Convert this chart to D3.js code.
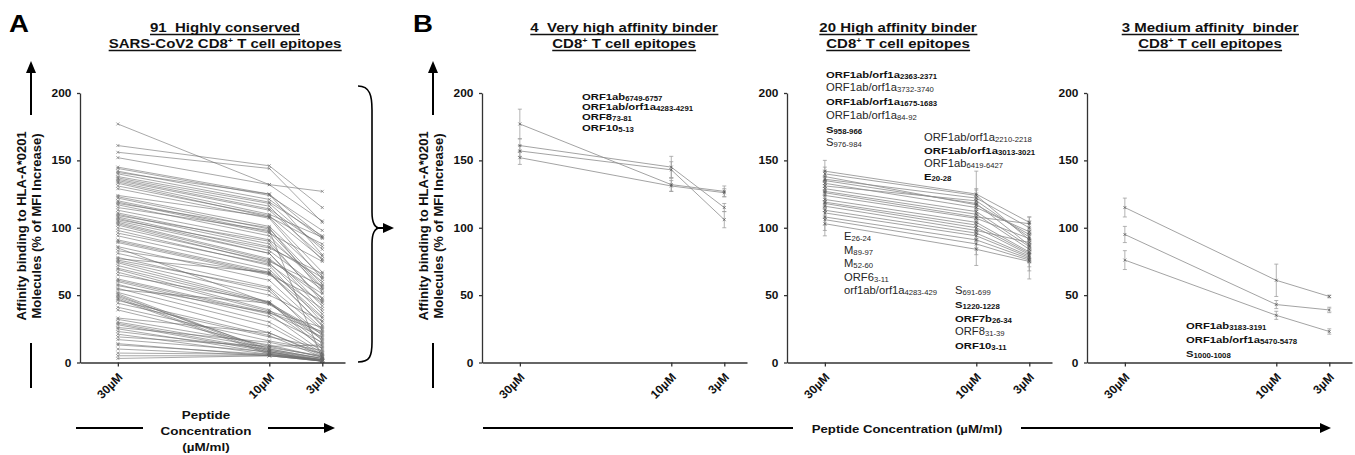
<!DOCTYPE html>
<html>
<head>
<meta charset="utf-8">
<script src="https://cdn.jsdelivr.net/npm/d3@7"></script>
<style>
  body { margin: 0; background: #fff; }
  text { font-family: "Liberation Sans", Arial, sans-serif; white-space: pre; }
</style>
</head>
<body>
<svg id="fig" width="1355" height="455"></svg>
<script>
// ---- data ----
const doses = [30, 10, 3];
const yTicks = [0, 50, 100, 150, 200];

// A: 91 highly conserved epitopes (value at 30, 10, 3 µM)
const a30 = [177,161,156,152,145,144,142,141,140,138,137,136,135,134,133,131,129,124,123,122,120,119,118,117,115,113,111,110,109,108,107,106,105,104,103,102,100,98,96,94,91,90,89,86,85,83,81,78,77,76,75,74,72,70,69,67,65,62,61,60,58,57,55,54,52,51,50,49,48,47,46,44,41,39,33,32,30,29,28,26,25,23,21,19,17,14,13,10,7,5,3];
const a10 = [132,146,144,132,125,124,121,125,119,118,116,114,113,110,108,109,107,108,101,99,97,96,100,94,98,91,88,86,90,83,81,85,81,77,76,74,75,72,73,69,67,66,65,61,44,66,56,53,67,55,50,45,44,43,39,38,45,37,36,34,30,37,27,44,22,9,8,10,7,6,20,19,16,12,22,13,11,9,8,15,7,10,6,12,8,5,6,5,6,5,5];
const a3  = [127,115,104,105,93,98,92,80,94,84,76,86,79,93,67,77,62,88,64,58,56,75,52,55,3,60,47,63,45,54,42,66,38,48,51,36,57,30,44,34,40,28,46,25,22,33,24,20,27,16,31,18,14,21,12,26,10,19,8,15,7,23,6,17,5,2,1,3,2,1,4,11,9,13,6,4,5,3,2,7,1,3,2,4,1,2,1,1,2,1,1];

// B1: 4 very high affinity binders (mean, sd)
const vh30 = [177,161,157,152], vh30sd = [11,5,4,5];
const vh10 = [132,145,143,131], vh10sd = [5,8,6,4];
const vh3  = [127,115,106,126], vh3sd  = [4,3,6,3];

// B2: 20 high affinity binders
const hi30 = [142,140,138,136,135,133,131,129,127,126,124,121,119,118,116,113,111,108,106,103];
const hi30sd = [8,5,4,6,3,5,4,5,3,6,4,5,3,6,4,5,4,6,8,9];
const hi10 = [125,124,117,122,118,115,120,112,110,108,107,104,102,100,98,96,94,91,88,84];
const hi10sd = [17,5,4,6,4,5,3,6,4,5,3,6,4,5,6,5,4,6,8,12];
const hi3  = [104,91,95,100,87,97,93,86,84,103,92,82,81,80,89,79,78,77,76,75];
const hi3sd  = [4,5,4,5,3,6,4,5,3,5,4,6,4,5,6,5,4,6,8,13];

// B3: 3 medium affinity binders
const md30 = [115,95,76], md30sd = [7,6,7];
const md10 = [61,43,35], md10sd = [12,3,3];
const md3  = [49,39,23], md3sd  = [1,2,2];

// epitope annotations: [name, subscript, bold]
const notesB1 = [["ORF1ab","6749-6757",1],["ORF1ab/orf1a","4283-4291",1],["ORF8","73-81",1],["ORF10","5-13",1]];
const notesB2a = [["ORF1ab/orf1a","2363-2371",1],["ORF1ab/orf1a","3732-3740",0],["ORF1ab/orf1a","1675-1683",1],["ORF1ab/orf1a","84-92",0],["S","958-966",1],["S","976-984",0]];
const notesB2b = [["ORF1ab/orf1a","2210-2218",0],["ORF1ab/orf1a","3013-3021",1],["ORF1ab","6419-6427",0],["E","20-28",1]];
const notesB2c = [["E","26-24",0],["M","89-97",0],["M","52-60",0],["ORF6","3-11",0],["orf1ab/orf1a","4283-429",0]];
const notesB2d = [["S","691-699",0],["S","1220-1228",1],["ORF7b","26-34",1],["ORF8","31-39",0],["ORF10","3-11",1]];
const notesB3 = [["ORF1ab","3183-3191",1],["ORF1ab/orf1a","5470-5478",1],["S","1000-1008",1]];

// ---- drawing ----
const svg = d3.select("#fig");
const y = d3.scaleLinear().domain([0, 200]).range([362.5, 93]);
const SX = 1.2;   // the figure's lettering is a little wide

// horizontal text helper, stretched a little like the original figure
function wideText(x, yy, size, bold, sx) {
    return svg.append("text")
        .attr("transform", `translate(${x},${yy}) scale(${sx || SX},1)`)
        .style("font-size", size + "px")
        .style("font-weight", bold ? "bold" : "normal")
        .attr("fill", "#111");
}

function panel(x0, s30, s10, s3, sd30, sd10, sd3, small) {
    const x = d3.scaleLinear().domain([35, 0]).range([x0, x0 + 265]);
    const g = svg.append("g");

    const rows = s30.map((v, i) => [[30, v, sd30 ? sd30[i] : 0], [10, s10[i], sd10 ? sd10[i] : 0], [3, s3[i], sd3 ? sd3[i] : 0]]);

    // error bars
    if (sd30) {
        const eb = g.append("g").attr("stroke", "#a0a0a0").attr("stroke-width", 0.8);
        rows.flat().forEach(p => {
            eb.append("line").attr("x1", x(p[0])).attr("x2", x(p[0]))
                .attr("y1", y(p[1] - p[2])).attr("y2", y(p[1] + p[2]));
            [p[1] - p[2], p[1] + p[2]].forEach(v => {
                eb.append("line").attr("x1", x(p[0]) - 2).attr("x2", x(p[0]) + 2)
                    .attr("y1", y(v)).attr("y2", y(v));
            });
        });
    }

    const line = d3.line().x(d => x(d[0])).y(d => y(d[1]));
    g.selectAll(".ln").data(rows).enter().append("path")
        .attr("d", line)
        .attr("fill", "none")
        .attr("stroke", small ? "#6e6e6e" : "#8c8c8c")
        .attr("stroke-width", small ? 0.6 : 0.8);

    // markers (small crosses)
    const m = 1.5;
    g.selectAll(".mk").data(rows.flat()).enter().append("path")
        .attr("d", d => `M${x(d[0]) - m},${y(d[1]) - m}L${x(d[0]) + m},${y(d[1]) + m}M${x(d[0]) - m},${y(d[1]) + m}L${x(d[0]) + m},${y(d[1]) - m}`)
        .attr("stroke", small ? "#666" : "#444")
        .attr("stroke-width", 0.6);

    // axes
    const ay = g.append("g")
        .attr("transform", `translate(${x0},0)`)
        .call(d3.axisLeft(y).tickValues(yTicks).tickSize(3).tickSizeOuter(0));
    const ax = g.append("g")
        .attr("transform", `translate(0,${y(0)})`)
        .call(d3.axisBottom(x).tickValues(doses).tickSize(4).tickSizeOuter(0).tickFormat(d => d + "µM"));
    [ay, ax].forEach(a => {
        a.select(".domain").attr("stroke", "#333").attr("stroke-width", 1.3);
        a.selectAll(".tick line").attr("stroke", "#333").attr("stroke-width", 1.3);
        a.selectAll("text").attr("fill", "#111").style("font-weight", "bold")
            .style("font-family", "'Liberation Sans', Arial, sans-serif");
    });
    ay.selectAll("text").style("font-size", "11px").attr("x", -8)
        .attr("transform", "scale(1.08,1)");
    ax.selectAll("text")
        .style("font-size", "12px")
        .attr("text-anchor", "end")
        .attr("x", 0).attr("y", 0).attr("dy", 0)
        .attr("transform", "translate(5,15.5) rotate(-45)");
    return x;
}

function yLabel(cx) {
    const t = svg.append("text")
        .attr("transform", `translate(${cx},226) rotate(-90)`)
        .attr("text-anchor", "middle")
        .style("font-weight", "bold").style("font-size", "13px").attr("fill", "#111");
    t.append("tspan").attr("x", 0).attr("y", 0).text("Affinity binding to HLA-A*0201");
    t.append("tspan").attr("x", 0).attr("y", 14.5).text("Molecules (% of MFI Increase)");
}

function arrowUp(cx) {
    svg.append("line").attr("x1", cx).attr("x2", cx).attr("y1", 115).attr("y2", 70)
        .attr("stroke", "#000").attr("stroke-width", 2);
    svg.append("path").attr("d", `M${cx},61L${cx - 5},73L${cx + 5},73Z`).attr("fill", "#000");
    svg.append("line").attr("x1", cx).attr("x2", cx).attr("y1", 343).attr("y2", 388)
        .attr("stroke", "#000").attr("stroke-width", 2);
}

function arrowRight(x1, x2, yy) {
    svg.append("line").attr("x1", x1).attr("x2", x2 - 8).attr("y1", yy).attr("y2", yy)
        .attr("stroke", "#000").attr("stroke-width", 2);
    svg.append("path").attr("d", `M${x2},${yy}L${x2 - 11},${yy - 5}L${x2 - 11},${yy + 5}Z`).attr("fill", "#000");
}

function title(cx, l1, l2) {
    const t = wideText(cx, 32, 12.5, true).attr("text-anchor", "middle").text(l1);
    const t2 = wideText(cx, 48, 12.5, true).attr("text-anchor", "middle");
    t2.append("tspan").text(l2[0]);
    t2.append("tspan").attr("dy", -5).style("font-size", "7.5px").text("+");
    t2.append("tspan").attr("dy", 5).text(l2[1]);
    [[t, 34.5], [t2, 50.5]].forEach(([tt, yy]) => {
        const b = tt.node().getBoundingClientRect();
        svg.append("line").attr("x1", b.left).attr("x2", b.right).attr("y1", yy).attr("y2", yy)
            .attr("stroke", "#111").attr("stroke-width", 1.3);
    });
}

function notes(list, x0, y0, step) {
    list.forEach((n, i) => {
        const bold = n[2] === 1;
        const t = wideText(x0, y0 + i * step, bold ? 9.4 : 10.2, bold, bold ? 1.2 : 1.1)
            .attr("fill", bold ? "#111" : "#262626");
        t.append("tspan").text(n[0]);
        t.append("tspan").attr("dy", 1).style("font-size", bold ? "6.5px" : "7px").text(n[1]);
    });
}

// panel A
panel(80, a30, a10, a3, null, null, null, true);
// panels B
panel(482, vh30, vh10, vh3, vh30sd, vh10sd, vh3sd, false);
panel(787, hi30, hi10, hi3, hi30sd, hi10sd, hi3sd, false);
panel(1087, md30, md10, md3, md30sd, md10sd, md3sd, false);

yLabel(26);
yLabel(428);
arrowUp(31);
arrowUp(433);

// letters
wideText(9, 32, 23, true).attr("fill", "#000").text("A");
wideText(413, 32, 23, true).attr("fill", "#000").text("B");

title(225, "91  Highly conserved", ["SARS-CoV2 CD8", " T cell epitopes"]);
title(624, "4  Very high affinity binder", ["CD8", " T cell epitopes"]);
title(898, "20 High affinity binder", ["CD8", " T cell epitopes"]);
title(1210, "3 Medium affinity  binder", ["CD8", " T cell epitopes"]);

// x-axis labels
arrowRight(76, 335, 428);
svg.append("rect").attr("x", 143).attr("y", 420).attr("width", 125).attr("height", 16).attr("fill", "#fff");
wideText(206, 419, 11.2, true).attr("text-anchor", "middle").text("Peptide");
wideText(206, 435, 11.2, true).attr("text-anchor", "middle").text("Concentration");
wideText(206, 451, 11.2, true).attr("text-anchor", "middle").text("(µM/ml)");

arrowRight(483, 1331, 428);
svg.append("rect").attr("x", 793).attr("y", 420).attr("width", 228).attr("height", 16).attr("fill", "#fff");
wideText(907, 433, 11, true).attr("text-anchor", "middle").text("Peptide Concentration (µM/ml)");

// brace from A to B
svg.append("path")
    .attr("d", "M358,86C370,86 372,96 372,110L372,212C372,222 375,228 380,228C375,228 372,234 372,244L372,342C372,356 370,362 358,362")
    .attr("fill", "none").attr("stroke", "#000").attr("stroke-width", 1.6);
arrowRight(376, 394, 228);

// annotations
notes(notesB1, 582, 100, 10.2);
notes(notesB2a, 826, 77.7, 13.7);
notes(notesB2b, 924, 141, 13);
notes(notesB2c, 844, 240, 13.5);
notes(notesB2d, 955, 294, 13.8);
notes(notesB3, 1186, 329.4, 13.7);
</script>
</body>
</html>
